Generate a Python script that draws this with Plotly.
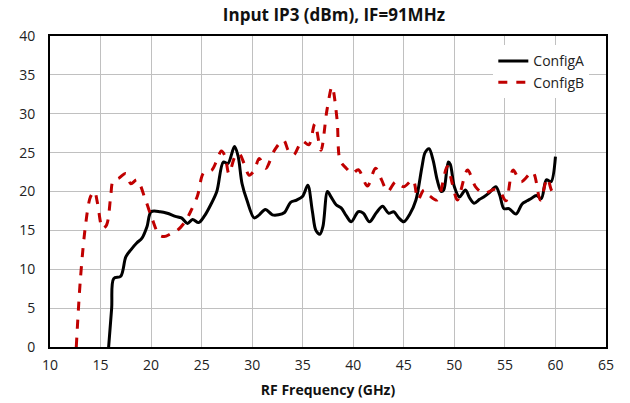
import plotly.graph_objects as go

freq_a = [15.8, 16.1, 16.3, 17.0, 17.5, 18.0, 18.6, 19.1, 19.6, 20.0, 20.9, 21.6, 22.4, 23.0, 23.6,
          24.1, 24.7, 25.3, 25.9, 26.5, 27.15, 27.6, 28.25, 28.6, 29.0, 29.5, 30.2, 30.7, 31.3, 32.0,
          32.6, 33.2, 33.8, 34.4, 35.0, 35.5, 35.95, 36.3, 36.7, 37.0, 37.45, 37.8, 38.3, 38.8, 39.3,
          39.8, 40.5, 41.0, 41.6, 42.3, 42.9, 43.5, 44.0, 44.5, 45.0, 45.6, 46.2, 46.8, 47.1, 47.5,
          47.9, 48.3, 48.7, 48.95, 49.4, 49.6, 50.0, 50.5, 51.1, 51.5, 51.95, 52.5, 52.9, 53.5, 54.1,
          54.5, 54.9, 55.4, 56.1, 56.7, 57.2, 57.6, 58.1, 58.6, 59.1, 59.55, 60.0]
iip3_a = [0.0, 5.0, 8.8, 9.1, 11.6, 12.5, 13.4, 14.0, 15.5, 17.4, 17.4, 17.2, 16.8, 16.6, 15.9,
          16.4, 16.0, 16.9, 18.3, 20.0, 23.8, 23.6, 25.8, 24.6, 21.0, 18.8, 16.6, 17.0, 17.7, 17.0,
          17.0, 17.3, 18.6, 18.9, 19.4, 20.8, 17.5, 15.0, 14.5, 15.5, 20.0, 19.3, 18.3, 17.9, 16.9,
          16.1, 17.4, 17.2, 16.1, 17.3, 18.1, 17.2, 17.4, 16.6, 16.1, 17.1, 18.9, 23.2, 25.0, 25.5,
          24.0, 21.5, 20.0, 20.2, 23.8, 23.5, 20.6, 19.3, 20.2, 19.2, 18.5, 19.0, 19.3, 19.9, 20.6,
          19.5, 17.8, 17.8, 17.1, 18.4, 18.8, 19.1, 19.5, 19.1, 21.5, 21.25, 24.5]

freq_b = [12.6, 13.0, 13.5, 14.0, 14.4, 14.7, 15.2, 15.6, 16.0, 16.25, 16.8, 17.5, 18.0, 18.6, 19.45,
          20.1, 20.8, 21.3, 22.0, 22.6, 23.3, 23.9, 24.6, 25.2, 26.0, 26.5, 26.95, 27.3, 27.7, 28.3,
          28.7, 29.2, 29.7, 30.2, 30.7, 31.35, 32.2, 33.1, 33.6, 34.1, 34.95, 35.6, 36.2, 36.8, 37.4,
          37.9, 38.4, 38.7, 39.3, 39.9, 40.5, 41.4, 42.2, 42.8, 43.4, 44.2, 45.0, 45.9, 46.4, 47.0,
          47.6, 48.3, 49.3, 49.8, 50.3, 51.3, 52.1, 52.9, 54.0, 54.5, 55.1, 55.8, 56.6, 57.75, 58.5,
          59.2, 59.7, 60.2]
iip3_b = [0.0, 8.6, 15.5, 19.3, 20.0, 18.5, 15.25, 15.7, 19.3, 21.4, 21.7, 22.3, 21.0, 21.5, 18.9,
          16.5, 14.4, 14.2, 14.6, 15.0, 16.0, 17.4, 19.5, 22.4, 22.75, 24.0, 25.2, 24.6, 22.3, 24.5,
          24.9, 23.6, 22.1, 22.7, 24.25, 23.0, 25.3, 26.6, 25.2, 24.7, 26.5, 26.0, 28.7, 25.3, 30.5,
          33.5, 29.2, 24.0, 23.0, 22.3, 22.8, 20.7, 23.0, 21.5, 20.0, 21.25, 20.6, 21.5, 19.0, 20.2,
          19.4, 18.9, 23.2, 21.0, 18.9, 22.75, 20.6, 19.75, 20.3, 20.0, 18.8, 22.75, 21.25, 22.5, 18.9,
          21.7, 20.0, 20.2]

x_ticks = [10, 15, 20, 25, 30, 35, 40, 45, 50, 55, 60, 65]
y_ticks = [0, 5, 10, 15, 20, 25, 30, 35, 40]

FONT = "Open Sans"

fig = go.Figure()
fig.add_trace(go.Scatter(x=freq_a, y=iip3_a, mode="lines", name="ConfigA",
                         line=dict(color="black", width=3, shape="spline", smoothing=0.9)))
fig.add_trace(go.Scatter(x=freq_b, y=iip3_b, mode="lines", name="ConfigB",
                         line=dict(color="#c00000", width=3, dash="dash", shape="spline", smoothing=0.9)))

fig.update_layout(
    width=630, height=403,
    margin=dict(l=50, r=24, t=36, b=56, autoexpand=False),
    paper_bgcolor="white", plot_bgcolor="white",
    font=dict(family=FONT, size=14, color="#222"),
    title=dict(text="<b>Input IP3 (dBm), IF=91MHz</b>", x=0.53, xanchor="center",
               y=0.962, yanchor="middle", font=dict(family=FONT, size=17, color="#111")),
    legend=dict(x=0.97, y=0.97, xanchor="right", yanchor="top", bgcolor="white",
                font=dict(family=FONT, size=14, color="#222")),
    showlegend=True,
    hovermode=False,
)
fig.update_xaxes(range=[10, 65], tickvals=x_ticks, ticks="", showgrid=True, gridcolor="#c0c0c0",
                 gridwidth=1, showline=True, linecolor="black", linewidth=2, mirror=True,
                 zeroline=False, automargin=False, ticklabelstandoff=4,
                 title=dict(text="<b>RF Frequency (GHz)</b>", standoff=12,
                            font=dict(family=FONT, size=14, color="#111")))
fig.update_yaxes(range=[0, 40], tickvals=y_ticks, ticks="", showgrid=True, gridcolor="#c0c0c0",
                 gridwidth=1, showline=True, linecolor="black", linewidth=2, mirror=True,
                 zeroline=False, automargin=False, ticklabelstandoff=10)

fig.write_html("out.html", config={"displayModeBar": False},
               post_script="document.body.style.margin='0';document.body.style.overflow='hidden';")
